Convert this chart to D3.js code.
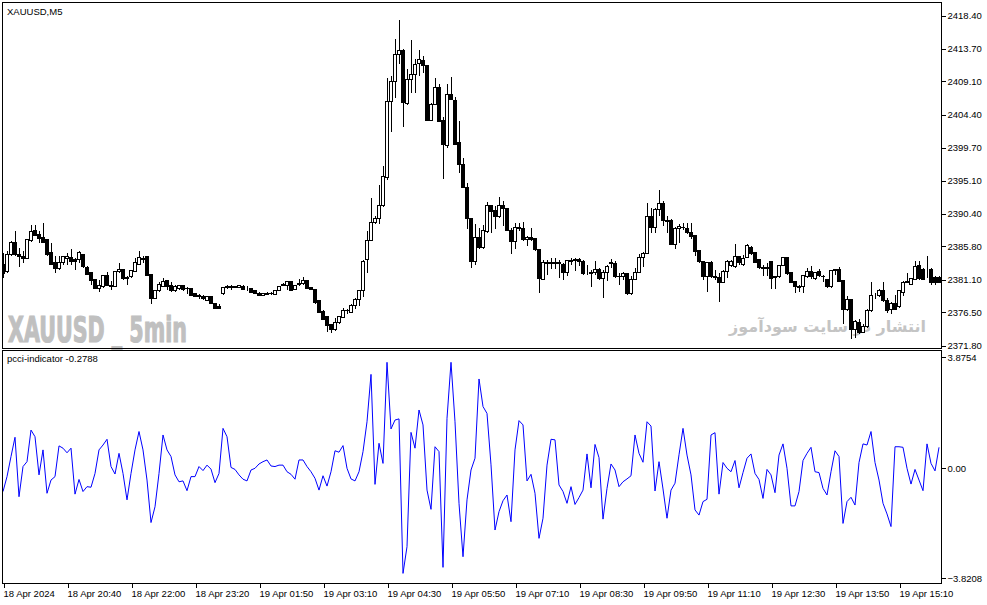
<!DOCTYPE html>
<html>
<head>
<meta charset="utf-8">
<script src="https://cdn.jsdelivr.net/npm/d3@7"></script>
<style>
body { margin: 0; background: #fff; }
svg text { font-family: "Liberation Sans", Arial, sans-serif; }
</style>
</head>
<body>
<svg id="chart" width="987" height="605"></svg>
<script>
// XAUUSD M5 bars (index 0 = 18 Apr 2024 ~19:20)
var openPrices = [
2383.3,2382.3,2384.6,2386.4,2384.6,2384.3,2384.1,2386.6,2388.0,2387.5,2387.0,2386.8,2385.0,2383.5,2382.7,2383.5,2384.1,2384.2,2383.9,2383.9,
2384.7,2382.8,2382.1,2381.1,2379.9,2380.2,2381.7,2380.3,2380.1,2382.2,2382.6,2381.4,2381.5,2382.3,2383.3,2384.1,2384.3,2381.8,2378.4,2379.5,
2380.2,2381.0,2380.3,2379.5,2379.9,2380.3,2379.9,2379.9,2379.1,2378.8,2378.7,2378.2,2378.7,2377.7,2377.3,2379.1,2380.0,2380.1,2380.0,2380.0,
2380.2,2379.8,2379.8,2379.5,2379.2,2378.9,2379.0,2379.1,2379.0,2379.6,2380.3,2380.3,2380.8,2379.7,2380.4,2380.5,2381.0,2380.0,2379.7,2378.1,
2376.6,2375.9,2374.8,2374.0,2375.0,2375.8,2376.7,2376.5,2377.4,2378.3,2379.5,2383.9,2386.6,2389.1,2389.7,2391.5,2395.5,2406.2,2409.1,2412.9,
2413.5,2406.0,2409.4,2410.1,2411.6,2412.1,2411.3,2403.6,2405.9,2408.2,2403.6,2400.0,2407.3,2406.4,2400.4,2397.4,2394.1,2389.7,2383.6,2387.0,
2385.7,2387.9,2391.5,2390.8,2390.0,2391.6,2391.2,2388.1,2386.5,2388.3,2388.3,2386.7,2387.1,2386.9,2385.4,2381.1,2383.4,2383.5,2383.4,2383.5,
2383.2,2382.1,2383.7,2383.8,2383.9,2383.7,2381.9,2382.0,2382.1,2382.5,2381.2,2382.1,2383.4,2383.4,2381.5,2381.5,2381.9,2379.2,2381.1,2382.1,
2384.2,2384.8,2390.0,2388.5,2391.0,2391.9,2389.4,2389.5,2386.1,2388.3,2388.4,2388.3,2387.8,2387.3,2385.2,2383.6,2381.5,2383.5,2381.5,2381.4,
2380.7,2382.3,2383.1,2382.9,2384.4,2383.2,2384.2,2385.7,2384.9,2383.9,2382.8,2382.7,2383.6,2381.4,2381.5,2383.1,2384.2,2382.1,2380.9,2380.1,
2380.1,2381.6,2382.3,2381.2,2382.2,2381.6,2381.1,2380.1,2382.4,2382.6,2381.0,2376.9,2378.3,2374.1,2375.0,2373.6,2374.5,2376.7,2378.9,2378.9,
2379.6,2378.1,2376.9,2377.7,2377.3,2379.3,2380.7,2380.4,2381.1,2383.1,2382.6,2382.3,2382.5,2381.4,2381.4
];
var highPrices = [
2384.9,2385.1,2386.5,2388.0,2385.6,2385.1,2386.8,2388.8,2388.8,2387.9,2389.1,2386.9,2386.3,2384.4,2384.4,2384.5,2384.9,2385.4,2384.2,2385.1,
2384.7,2383.0,2382.1,2381.1,2381.1,2381.8,2382.2,2380.9,2382.3,2383.4,2382.6,2381.6,2382.4,2384.1,2385.1,2384.4,2384.3,2381.8,2379.7,2380.7,
2381.4,2381.1,2380.7,2380.4,2380.4,2380.4,2380.1,2379.9,2379.2,2379.1,2379.0,2378.7,2378.8,2377.8,2377.6,2380.1,2380.3,2380.3,2380.2,2380.4,
2380.3,2380.2,2379.9,2379.6,2379.3,2379.2,2379.3,2379.3,2379.6,2380.2,2380.6,2380.9,2380.9,2380.3,2381.2,2381.5,2381.0,2380.0,2379.7,2378.1,
2376.8,2375.9,2374.8,2375.7,2375.9,2377.1,2377.0,2377.7,2378.5,2379.7,2383.9,2387.9,2392.6,2390.1,2394.5,2397.2,2409.6,2409.8,2415.1,2417.8,
2413.6,2410.9,2414.9,2412.2,2413.5,2412.7,2411.3,2406.1,2409.6,2408.7,2404.0,2408.7,2409.7,2406.9,2403.5,2398.3,2394.8,2389.7,2388.9,2388.4,
2388.8,2392.0,2391.5,2391.5,2392.8,2392.2,2391.2,2388.4,2389.1,2389.1,2389.3,2387.3,2388.4,2386.9,2385.4,2383.9,2383.9,2384.1,2384.1,2383.9,
2383.4,2383.9,2384.1,2384.1,2384.1,2383.9,2383.2,2382.5,2383.8,2382.8,2382.5,2383.1,2384.0,2383.7,2382.1,2382.2,2382.1,2381.6,2382.8,2384.7,
2385.0,2391.9,2391.2,2391.2,2393.8,2392.2,2390.1,2389.6,2388.5,2388.9,2389.1,2389.1,2389.1,2387.3,2385.2,2383.7,2383.6,2383.7,2382.4,2382.1,
2382.5,2383.9,2383.9,2386.2,2384.5,2384.6,2386.1,2385.9,2385.0,2383.9,2383.1,2383.5,2383.7,2381.6,2383.2,2384.3,2384.2,2382.2,2380.9,2380.4,
2381.8,2382.8,2383.0,2382.2,2382.6,2381.8,2381.2,2382.5,2382.6,2382.9,2381.1,2378.8,2378.4,2375.4,2375.5,2374.8,2376.9,2380.7,2379.2,2379.8,
2380.7,2378.5,2377.9,2379.0,2379.6,2380.9,2382.1,2381.4,2383.7,2383.7,2382.8,2384.4,2382.8,2381.6,2381.6
];
var lowPrices = [
2381.3,2382.1,2384.4,2384.4,2382.9,2383.5,2384.0,2386.4,2387.2,2386.3,2386.3,2384.4,2383.2,2382.1,2382.4,2383.2,2383.2,2383.2,2382.5,2383.5,
2382.8,2381.8,2380.4,2379.9,2379.3,2379.9,2380.2,2379.7,2380.1,2382.1,2381.1,2380.4,2381.4,2382.2,2383.3,2383.5,2381.6,2377.7,2378.3,2379.3,
2380.2,2379.7,2379.3,2379.3,2379.6,2379.5,2379.1,2378.9,2378.6,2378.3,2378.2,2378.1,2377.6,2377.0,2376.9,2379.0,2379.8,2379.7,2379.9,2379.9,
2379.7,2379.5,2379.3,2379.1,2378.8,2378.8,2378.9,2379.0,2379.0,2379.5,2380.2,2379.7,2379.5,2379.7,2380.2,2380.3,2379.8,2379.7,2377.7,2376.4,
2375.4,2373.7,2373.6,2373.8,2374.9,2375.7,2376.3,2376.4,2376.9,2377.4,2378.7,2382.1,2386.5,2388.9,2388.9,2391.4,2395.2,2401.9,2406.8,2411.5,
2402.7,2405.8,2407.5,2407.5,2409.9,2410.3,2403.5,2403.5,2405.8,2403.3,2395.3,2399.7,2406.4,2400.1,2396.2,2394.0,2388.3,2382.8,2383.2,2385.4,
2385.4,2387.7,2387.7,2388.2,2389.8,2388.7,2387.9,2384.7,2385.4,2388.0,2386.5,2385.8,2386.5,2385.1,2379.2,2381.0,2381.8,2382.6,2382.6,2381.4,
2381.0,2381.6,2383.1,2382.3,2383.0,2381.8,2381.8,2380.1,2381.8,2381.1,2378.5,2380.9,2382.8,2381.4,2380.4,2381.1,2378.9,2378.9,2381.0,2382.0,
2382.9,2384.7,2387.7,2387.7,2390.1,2388.7,2387.7,2386.0,2385.4,2386.3,2388.1,2387.5,2386.9,2384.4,2383.5,2381.0,2379.3,2381.4,2381.1,2377.9,
2380.6,2381.4,2382.9,2382.8,2383.2,2383.0,2384.1,2384.6,2383.4,2382.6,2381.6,2381.6,2379.8,2379.8,2381.4,2383.0,2381.8,2380.7,2379.2,2379.3,
2379.2,2381.4,2381.2,2381.0,2381.5,2380.7,2379.9,2379.9,2381.8,2380.7,2374.8,2376.7,2372.7,2372.9,2373.4,2373.5,2374.3,2376.5,2378.3,2378.7,
2377.9,2376.4,2376.2,2376.8,2377.1,2378.8,2380.6,2380.3,2381.0,2381.1,2381.0,2381.4,2380.4,2380.4,2380.6
];
var closePrices = [
2381.9,2384.7,2386.4,2384.6,2384.3,2384.1,2386.7,2387.9,2387.4,2386.9,2386.4,2384.6,2383.2,2382.7,2383.5,2384.3,2384.3,2383.6,2383.7,2384.9,
2383.0,2381.8,2381.0,2379.9,2380.3,2381.7,2380.3,2380.1,2382.3,2382.6,2381.3,2381.2,2382.4,2383.5,2384.2,2384.0,2381.7,2378.5,2379.5,2380.4,
2380.9,2380.2,2379.5,2380.2,2380.3,2379.7,2379.8,2378.9,2378.7,2378.7,2378.4,2378.7,2377.7,2377.0,2377.0,2380.0,2380.1,2380.0,2380.2,2380.3,
2379.7,2379.8,2379.3,2379.1,2378.9,2379.1,2379.2,2379.2,2379.6,2380.2,2380.4,2380.8,2379.6,2380.3,2380.6,2381.0,2379.9,2379.7,2377.9,2376.4,
2375.5,2374.6,2374.0,2375.1,2375.9,2376.8,2376.8,2377.5,2378.3,2379.5,2383.7,2386.6,2389.1,2389.7,2391.5,2395.6,2406.2,2409.1,2412.9,2413.5,
2406.1,2409.4,2410.1,2411.5,2412.2,2411.3,2403.6,2405.9,2408.2,2403.4,2400.2,2407.3,2406.5,2400.2,2397.4,2394.1,2389.8,2383.6,2387.0,2385.6,
2388.0,2391.5,2390.7,2390.0,2391.5,2391.2,2388.0,2386.5,2388.4,2388.4,2386.7,2387.1,2386.8,2385.4,2381.2,2383.5,2383.5,2383.4,2383.5,2383.4,
2382.1,2383.8,2383.8,2383.9,2383.6,2381.9,2381.9,2382.1,2382.5,2381.2,2382.1,2382.9,2383.5,2381.5,2381.6,2381.9,2379.2,2381.1,2382.1,2384.2,
2384.8,2390.0,2388.5,2391.0,2391.9,2389.4,2389.3,2386.1,2388.3,2388.6,2388.5,2387.8,2387.2,2385.1,2383.6,2381.5,2383.5,2381.5,2381.4,2380.7,
2382.3,2383.7,2383.7,2384.3,2383.5,2384.1,2385.9,2384.8,2383.5,2382.8,2382.7,2382.8,2381.2,2381.5,2383.1,2384.2,2382.0,2380.7,2380.1,2380.0,
2381.7,2382.2,2381.5,2382.1,2381.7,2381.5,2380.1,2382.4,2382.5,2380.9,2376.9,2378.3,2374.1,2375.2,2373.6,2374.5,2376.7,2378.9,2378.9,2379.6,
2378.1,2376.7,2377.7,2376.9,2379.5,2380.7,2380.8,2381.2,2383.0,2381.2,2381.1,2382.3,2380.7,2380.7,2380.7
];
// pcci-indicator, one value per bar
var pcciValues = [
-0.81,-0.29,0.41,1.08,-0.99,0.06,0.23,1.33,1.10,-0.23,0.64,-0.87,-0.41,-0.29,0.78,0.70,0.54,0.70,-0.90,-0.39,
-0.81,-0.64,-0.66,-0.18,0.64,0.81,1.01,0.06,-0.20,0.52,-0.18,-1.10,-0.18,0.64,1.28,0.64,-0.41,-1.89,-1.34,-0.18,
1.16,0.64,0.41,-0.23,-0.47,-0.44,-0.78,-0.29,-0.29,0.06,-0.08,0.11,-0.03,-0.50,-0.18,1.39,1.10,0.03,-0.04,-0.23,
-0.38,-0.44,-0.06,0.00,0.15,0.23,0.29,0.08,0.06,0.11,0.11,-0.12,-0.21,-0.38,0.29,0.29,0.06,-0.12,-0.35,-0.76,
-0.26,-0.62,-0.12,0.61,0.56,0.79,0.00,-0.37,-0.44,-0.12,0.58,1.62,3.27,-0.56,0.87,0.17,3.69,1.37,1.68,1.72,
-3.66,-2.73,1.25,0.70,2.03,1.51,-0.76,-1.43,0.75,0.58,-3.45,1.74,3.69,1.62,-1.22,-3.08,-1.10,-0.06,0.35,3.11,
2.15,1.91,0.12,-2.15,-1.51,-1.13,-0.93,-1.86,0.64,1.66,1.51,-0.44,-0.21,-0.87,-2.44,-1.74,0.11,1.01,0.99,-0.58,
-0.81,-1.22,-0.64,-1.26,-1.02,-0.76,0.50,-0.68,0.83,0.37,-1.77,-0.70,0.15,-0.06,-0.64,-0.47,-0.37,-0.26,1.16,0.52,
0.21,1.62,1.47,-0.79,0.23,-0.72,-1.74,-0.76,-0.52,0.47,1.39,0.46,-0.23,-1.45,-1.63,-1.16,-1.08,1.16,1.24,-0.90,
0.20,0.00,-0.12,0.27,-0.68,-0.15,0.35,0.50,-0.18,-0.39,-1.05,-0.04,-0.23,-0.85,0.46,0.85,0.00,-1.31,-1.31,-0.81,
0.27,0.52,0.73,-0.12,-0.15,-0.70,-0.93,-0.12,0.61,0.41,-1.92,-1.16,-1.01,-1.28,0.20,0.85,0.81,1.28,0.20,-0.41,
-1.22,-1.59,-2.03,0.75,0.75,0.73,0.00,-0.55,-0.04,-0.41,-0.78,0.85,0.17,-0.09,0.73
];
var priceTicks = [2418.40, 2413.70, 2409.10, 2404.40, 2399.70, 2395.10, 2390.40, 2385.80, 2381.10, 2376.50, 2371.80];
var pcciTicks = [3.8754, 0, -3.8208];
var timeTickBars = [0, 16, 32, 48, 64, 80, 96, 112, 128, 144, 160, 176, 192, 208, 224];
var timeLabels = ["18 Apr 2024", "18 Apr 20:40", "18 Apr 22:00", "18 Apr 23:20", "19 Apr 01:50",
    "19 Apr 03:10", "19 Apr 04:30", "19 Apr 05:50", "19 Apr 07:10", "19 Apr 08:30",
    "19 Apr 09:50", "19 Apr 11:10", "19 Apr 12:30", "19 Apr 13:50", "19 Apr 15:10"];

var bars = openPrices.map(function (o, i) {
    return { i: i, o: o, h: highPrices[i], l: lowPrices[i], c: closePrices[i], v: pcciValues[i] };
});

var frameLeft = 2.5, frameRight = 941.5;
var mainTop = 2.5, mainBottom = 348.5, subTop = 350.5, subBottom = 583.5;

var x = d3.scaleLinear().domain([0, 1]).range([3, 7]);
var y = d3.scaleLinear().domain([2371.8, 2418.4]).range([345.5, 15.5]);
var yInd = d3.scaleLinear().domain([-3.8208, 3.8754]).range([578, 357]);

var svg = d3.select("#chart");
svg.append("rect").attr("width", 987).attr("height", 605).attr("fill", "#fff");

svg.append("defs").append("clipPath").attr("id", "mainClip")
    .append("rect").attr("x", frameLeft).attr("y", mainTop)
    .attr("width", frameRight - frameLeft).attr("height", mainBottom - mainTop);
svg.select("defs").append("clipPath").attr("id", "subClip")
    .append("rect").attr("x", frameLeft).attr("y", subTop)
    .attr("width", frameRight - frameLeft).attr("height", subBottom - subTop);

// watermarks
svg.append("text")
    .attr("x", 8).attr("y", 342)
    .attr("textLength", 179).attr("lengthAdjust", "spacingAndGlyphs")
    .style("font-family", "'Liberation Sans Narrow', 'DejaVu Sans Condensed', sans-serif")
    .style("font-weight", "bold").style("font-size", "36px")
    .attr("fill", "#c0c0c0").attr("stroke", "#c0c0c0").attr("stroke-width", 1.2)
    .text("XAUUSD _ 5min");

svg.append("text")
    .attr("x", 926).attr("y", 332)
    .attr("text-anchor", "end")
    .style("font-family", "'DejaVu Sans', sans-serif")
    .style("font-weight", "bold").style("font-size", "16px")
    .attr("fill", "#c4c4c4")
    .text("انتشار در سایت سودآموز");

// candles
var candles = svg.append("g").attr("clip-path", "url(#mainClip)")
    .attr("shape-rendering", "crispEdges");

var g = candles.selectAll("g.bar")
    .data(bars)
    .enter().append("g")
    .attr("class", "bar");

g.append("line")
    .attr("x1", function (d) { return x(d.i) + 0.5; })
    .attr("x2", function (d) { return x(d.i) + 0.5; })
    .attr("y1", function (d) { return y(d.h); })
    .attr("y2", function (d) { return y(d.l); })
    .attr("stroke", "#000").attr("stroke-width", 1);

g.append("rect")
    .attr("x", function (d) { return x(d.i) - 1.5; })
    .attr("width", 3)
    .attr("y", function (d) { return y(Math.max(d.o, d.c)); })
    .attr("height", function (d) { return Math.abs(y(d.o) - y(d.c)); })
    .attr("fill", function (d) { return d.c >= d.o ? "#fff" : "#000"; })
    .attr("stroke", "#000").attr("stroke-width", 1);

// indicator line
var line = d3.line()
    .x(function (d) { return x(d.i); })
    .y(function (d) { return yInd(d.v); });

svg.append("g").attr("clip-path", "url(#subClip)")
    .append("path")
    .datum(bars)
    .attr("d", line)
    .attr("fill", "none")
    .attr("stroke", "#0000ff")
    .attr("stroke-width", 1);

// frames
svg.append("rect").attr("x", frameLeft).attr("y", mainTop)
    .attr("width", frameRight - frameLeft).attr("height", mainBottom - mainTop)
    .attr("fill", "none").attr("stroke", "#000").attr("shape-rendering", "crispEdges");
svg.append("rect").attr("x", frameLeft).attr("y", subTop)
    .attr("width", frameRight - frameLeft).attr("height", subBottom - subTop)
    .attr("fill", "none").attr("stroke", "#000").attr("shape-rendering", "crispEdges");

// axes
function styleAxis(sel) {
    sel.select(".domain").remove();
    sel.selectAll("text")
        .attr("fill", "#000")
        .style("font-family", "'Liberation Sans', Arial, sans-serif")
        .style("font-size", "9.5px");
    sel.selectAll("line").attr("stroke", "#000").attr("shape-rendering", "crispEdges");
}

svg.append("g")
    .attr("transform", "translate(" + frameRight + ",0)")
    .call(d3.axisRight(y).tickValues(priceTicks).tickSize(4).tickPadding(2)
        .tickFormat(d3.format(".2f")))
    .call(styleAxis);

svg.append("g")
    .attr("transform", "translate(" + frameRight + ",0)")
    .call(d3.axisRight(yInd).tickValues(pcciTicks).tickSize(4).tickPadding(2)
        .tickFormat(function (d) { return d === 0 ? "0.00" : d3.format(".4f")(d); }))
    .call(styleAxis);

var xAxis = svg.append("g")
    .attr("transform", "translate(0," + subBottom + ")")
    .call(d3.axisBottom(x).tickValues(timeTickBars).tickSize(4).tickPadding(3)
        .tickFormat(function (d, k) { return timeLabels[k]; }))
    .call(styleAxis);
xAxis.selectAll(".tick text").attr("text-anchor", "start").attr("x", 0);
xAxis.selectAll(".tick line").attr("transform", "translate(0.5,0)");

// titles
svg.append("text").attr("x", 7).attr("y", 15)
    .style("font-size", "9.5px").attr("fill", "#000")
    .text("XAUUSD,M5");
svg.append("text").attr("x", 7).attr("y", 362)
    .style("font-size", "9.5px").attr("fill", "#000")
    .text("pcci-indicator -0.2788");
</script>
</body>
</html>
